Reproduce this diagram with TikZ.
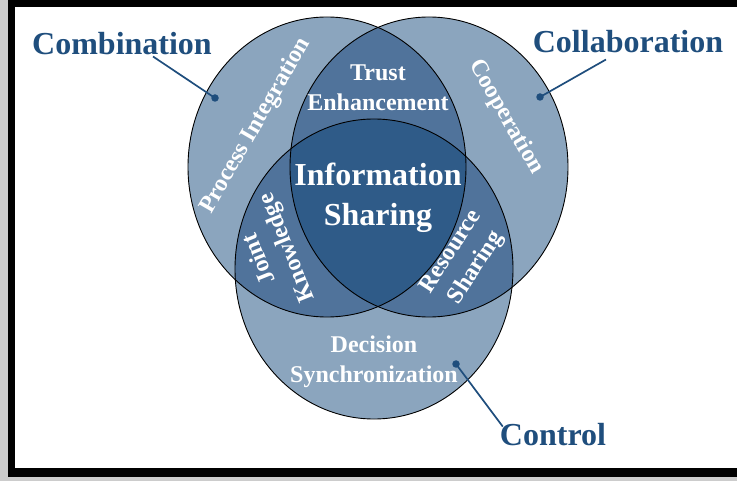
\documentclass[tikz,border=0pt]{standalone}
\usepackage{fontspec}
\setmainfont{Liberation Serif}
\definecolor{tagblue}{HTML}{1F4E7D}
\definecolor{paleblue}{HTML}{8BA5BE}
\definecolor{midblue}{HTML}{50739B}
\definecolor{deepblue}{HTML}{2F5B88}
\begin{document}
\begin{tikzpicture}[
    x=1pt, y=-1pt,
    ring/.style={draw=black, line width=0.9pt},
    tag/.style={font=\bfseries\fontsize{32}{36}\selectfont, text=tagblue, inner sep=0pt},
    inside/.style={font=\bfseries\fontsize{24}{30}\selectfont, text=white, align=center, inner sep=0pt},
    core/.style={font=\bfseries\fontsize{32}{40}\selectfont, text=white, align=center, inner sep=0pt},
    lead/.style={draw=tagblue, line width=1.7pt},
    pin/.style={circle, fill=tagblue, inner sep=0pt, minimum size=7.5pt}
]
    \useasboundingbox (0,0) rectangle (737,481);

    % Frame
    \fill[black!20] (0,0) rectangle (737,481);
    \fill[black] (8,0) rectangle (737,477);
    \fill[white] (15,7) rectangle (737,468);

    % Circle centres
    \coordinate (cL) at (327,167);
    \coordinate (cR) at (429,167);
    \coordinate (cB) at (374,269);

    % Single regions
    \foreach \c in {cL,cR,cB}
        \fill[paleblue] (\c) ellipse [x radius=139pt, y radius=150pt];

    % Pairwise overlaps
    \begin{scope}
        \clip (cL) ellipse [x radius=139pt, y radius=150pt];
        \fill[midblue] (cR) ellipse [x radius=139pt, y radius=150pt];
        \fill[midblue] (cB) ellipse [x radius=139pt, y radius=150pt];
    \end{scope}
    \begin{scope}
        \clip (cR) ellipse [x radius=139pt, y radius=150pt];
        \fill[midblue] (cB) ellipse [x radius=139pt, y radius=150pt];
    \end{scope}

    % Centre overlap
    \begin{scope}
        \clip (cL) ellipse [x radius=139pt, y radius=150pt];
        \clip (cR) ellipse [x radius=139pt, y radius=150pt];
        \fill[deepblue] (cB) ellipse [x radius=139pt, y radius=150pt];
    \end{scope}

    \foreach \c in {cL,cR,cB}
        \draw[ring] (\c) ellipse [x radius=139pt, y radius=150pt];

    % Region texts
    \node[inside] (trust) at (378,88) {Trust\\Enhancement};
    \node[core] (info) at (378,198) {Information\\Sharing};
    \node[inside] (decision) at (374,362) {Decision\\Synchronization};
    \node[inside, rotate=60] (process) at (256,126) {Process Integration};
    \node[inside, rotate=-60] (coop) at (506,117) {Cooperation};
    \node[inside, rotate=112] (joint) at (274,253) {Joint\\Knowledge};
    \node[inside, rotate=57] (resource) at (464,260) {Resource\\Sharing};

    % Outer labels
    \node[tag, anchor=base] (comb) at (122,55) {Combination};
    \node[tag, anchor=base] (collab) at (628,53) {Collaboration};
    \node[tag, anchor=base] (control) at (553,445) {Control};

    \node[pin] (pinL) at (215,98) {};
    \node[pin] (pinR) at (540,97) {};
    \node[pin] (pinB) at (456,364) {};
    \draw[lead] ([xshift=31pt, yshift=-1pt]comb.south) -- (pinL.center);
    \draw[lead] ([xshift=-22pt, yshift=-6pt]collab.south) -- (pinR.center);
    \draw[lead] ([xshift=3pt, yshift=-4pt]control.north west) -- (pinB.center);
\end{tikzpicture}
\end{document}
